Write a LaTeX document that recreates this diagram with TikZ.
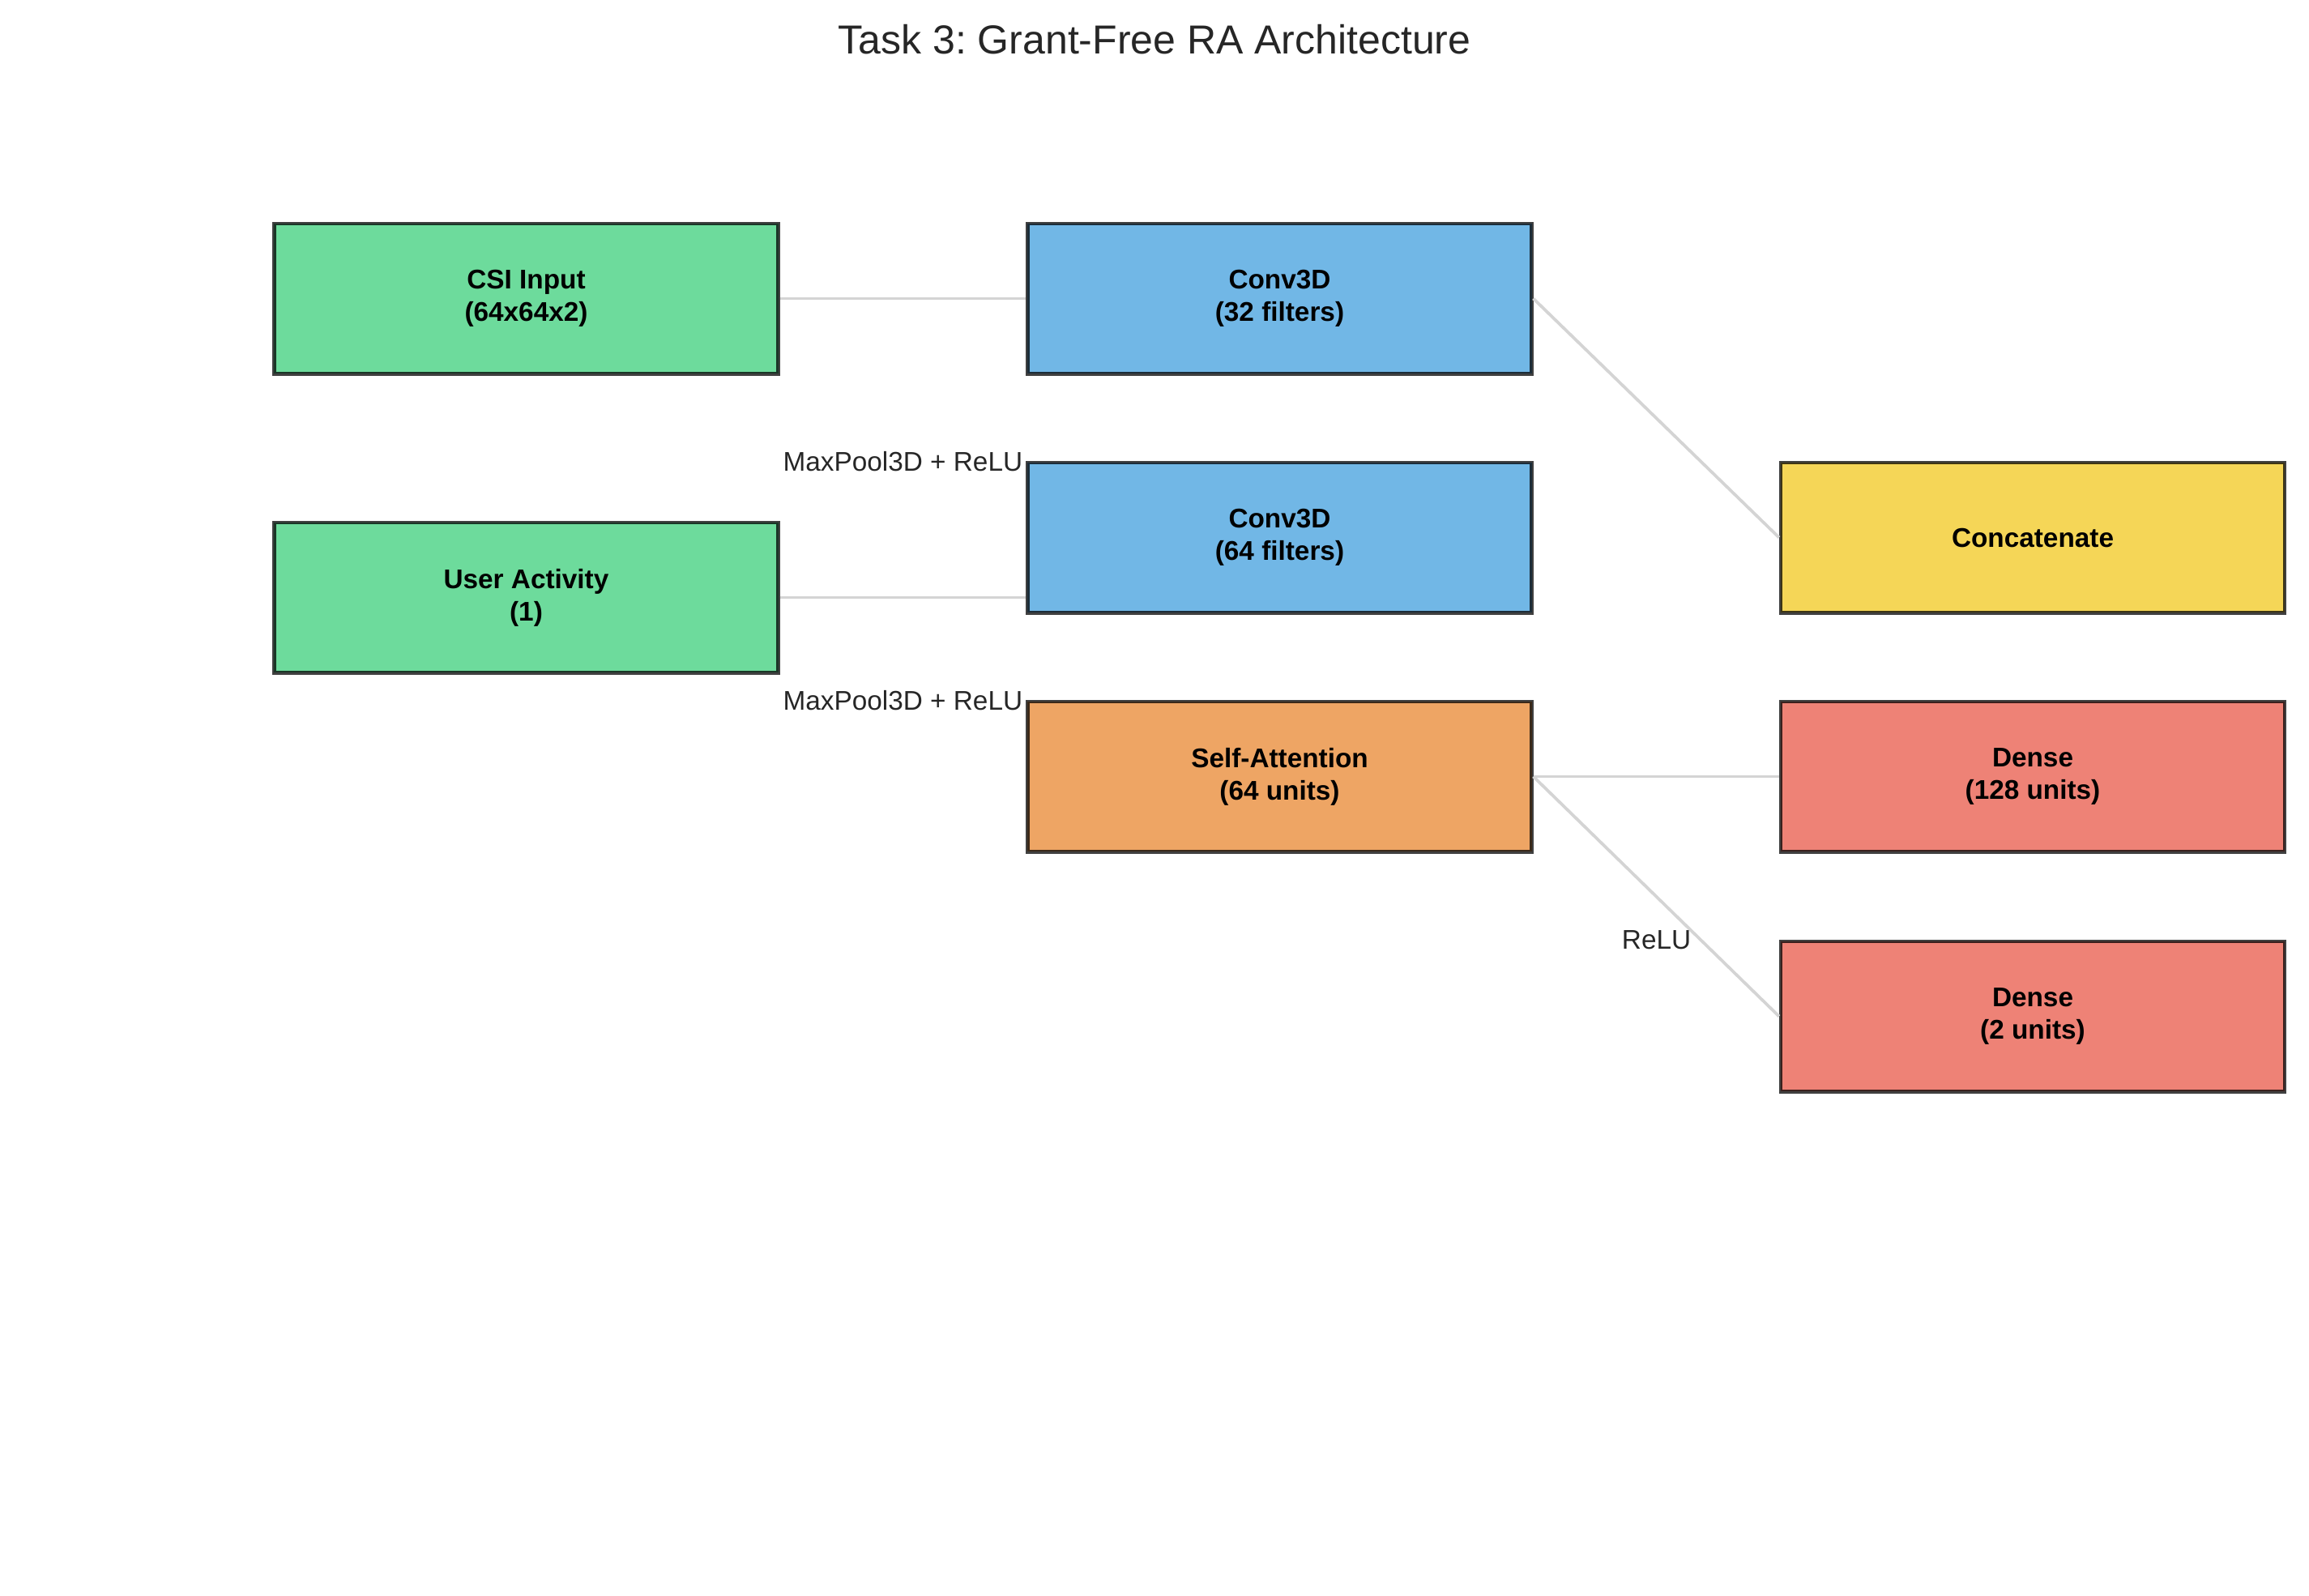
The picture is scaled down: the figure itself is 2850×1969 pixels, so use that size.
\documentclass[tikz,border=0pt]{standalone}
\usepackage{fontspec}
\setmainfont{Liberation Sans}
\frenchspacing
\definecolor{cgreen}{RGB}{109,219,156}
\definecolor{cblue}{RGB}{113,183,230}
\definecolor{corange}{RGB}{238,165,100}
\definecolor{cyellow}{RGB}{245,214,87}
\definecolor{cred}{RGB}{238,130,118}
\definecolor{edgegray}{RGB}{212,212,212}
\definecolor{txtgray}{RGB}{38,38,38}
\tikzset{
  layer/.style={draw=black, draw opacity=0.75, line width=1pt, rectangle,
    minimum width=149.3pt, minimum height=44.6pt, inner sep=0pt,
    align=center, font=\fontsize{8}{9.6}\selectfont\bfseries, text=black},
  conn/.style={draw=edgegray, line width=0.9pt},
  lbl/.style={font=\fontsize{8}{9.6}\selectfont, text=txtgray, inner sep=0pt}
}
\begin{document}
\begin{tikzpicture}[x=0.24pt, y=-0.24pt]
\useasboundingbox (0,0) rectangle (2850,1969);
\node[font=\fontsize{12}{14}\selectfont, text=txtgray, inner sep=0pt, anchor=base] (title) at (1425,66) {Task 3: Grant-Free RA Architecture};
\node[layer, fill=cgreen] (csi) at (649.5,368.5) {CSI Input\\(64x64x2)};
\node[layer, fill=cgreen] (ua) at (649.5,737.5) {User Activity\\(1)};
\node[layer, fill=cblue] (c32) at (1579.5,368.5) {Conv3D\\(32 filters)};
\node[layer, fill=cblue] (c64) at (1579.5,663.5) {Conv3D\\(64 filters)};
\node[layer, fill=corange] (sa) at (1579.5,958.5) {Self-Attention\\(64 units)};
\node[layer, fill=cyellow] (cat) at (2509,663.5) {Concatenate};
\node[layer, fill=cred] (d128) at (2509,958.5) {Dense\\(128 units)};
\node[layer, fill=cred] (d2) at (2509,1254.5) {Dense\\(2 units)};
\draw[conn] (csi.east) -- (c32.west);
\draw[conn] (ua.east) -- (c64.west |- ua.east);
\draw[conn] (c32.east) -- (cat.west);
\draw[conn] (sa.east) -- (d128.west);
\draw[conn] (sa.east) -- (d2.west);
\node[lbl, anchor=base east] (l1) at (1263,581) {MaxPool3D + ReLU};
\node[lbl, anchor=base east] (l2) at (1263,876) {MaxPool3D + ReLU};
\node[lbl, anchor=base east] (l3) at (2088,1171) {ReLU};
\end{tikzpicture}
\end{document}
